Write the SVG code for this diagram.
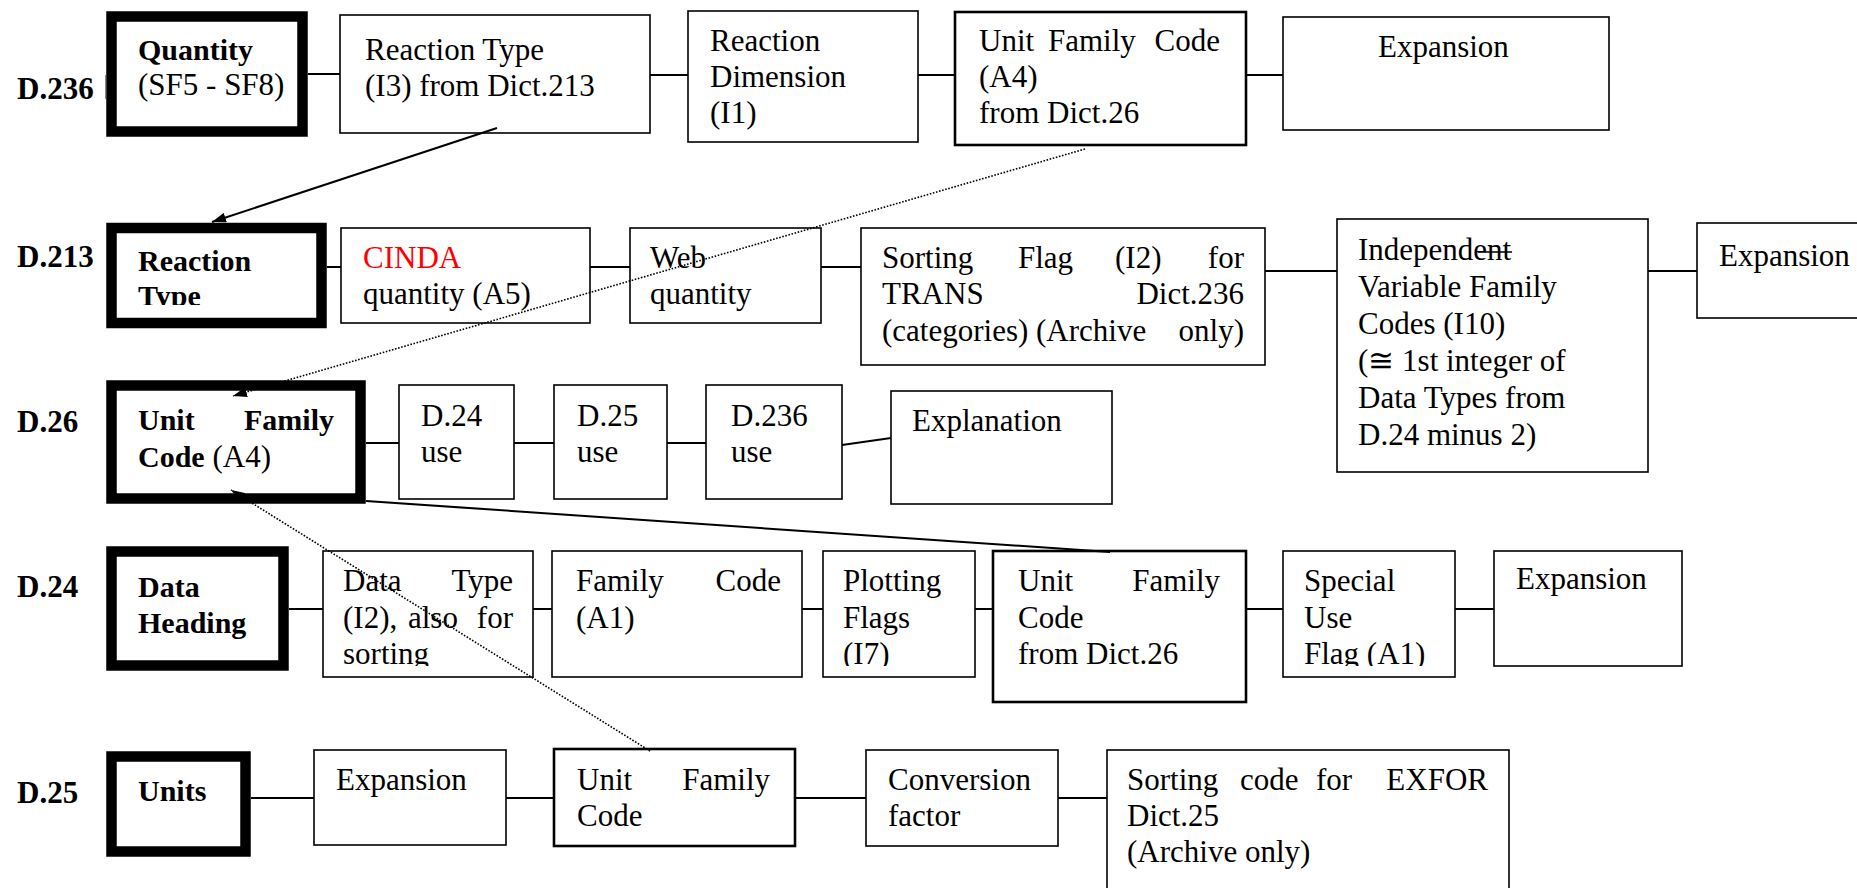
<svg xmlns="http://www.w3.org/2000/svg" width="1857" height="888" viewBox="0 0 1857 888">
<style>
text{font-family:"Liberation Serif","Times New Roman",serif;font-size:31px;fill:#000}
.b{font-weight:bold}
.lab{font-weight:bold;font-size:31px}
.bt{font-weight:bold;font-size:30px}
.box{fill:#fff;stroke:#000;stroke-width:1.6}
.mid{fill:#fff;stroke:#000;stroke-width:2.6}
.thk{fill:#fff;stroke:#000;stroke-width:10.5}
.ln{stroke:#000;stroke-width:2;fill:none}
.dot{stroke:#000;stroke-width:1.6;stroke-dasharray:1.6 1.6;fill:none}
.red{fill:#ff0000}
</style>
<defs>
<marker id="ah" viewBox="0 0 14 10" refX="14" refY="5" markerWidth="14" markerHeight="10" markerUnits="userSpaceOnUse" orient="auto"><path d="M0,0 L14,5 L0,10 z" fill="#000"/></marker>
<clipPath id="c1"><rect x="100" y="220" width="230" height="85"/></clipPath>
<clipPath id="c2"><rect x="300" y="540" width="1200" height="126"/></clipPath>
</defs>

<g id="labels">
<text class="lab" x="17" y="99">D.236</text>
<line x1="105.5" y1="75" x2="105.5" y2="99" stroke="#888" stroke-width="1"/>
<text class="lab" x="17" y="267">D.213</text>
<text class="lab" x="17" y="432">D.26</text>
<text class="lab" x="17" y="597">D.24</text>
<text class="lab" x="17" y="803">D.25</text>
</g>

<g id="connectors">
<line class="ln" x1="308" y1="74" x2="340" y2="74"/>
<line class="ln" x1="650" y1="75" x2="688" y2="75"/>
<line class="ln" x1="918" y1="75" x2="955" y2="75"/>
<line class="ln" x1="1246" y1="75" x2="1283" y2="75"/>
<line class="ln" x1="327" y1="267" x2="341" y2="267"/>
<line class="ln" x1="590" y1="267" x2="630" y2="267"/>
<line class="ln" x1="821" y1="267" x2="861" y2="267"/>
<line class="ln" x1="1265" y1="271" x2="1337" y2="271"/>
<line class="ln" x1="1648" y1="271" x2="1697" y2="271"/>
<line class="ln" x1="366" y1="443" x2="399" y2="443"/>
<line class="ln" x1="514" y1="443" x2="554" y2="443"/>
<line class="ln" x1="667" y1="443" x2="706" y2="443"/>
<line class="ln" x1="842" y1="445" x2="891" y2="438"/>
<line class="ln" x1="289" y1="609" x2="323" y2="609"/>
<line class="ln" x1="533" y1="609" x2="552" y2="609"/>
<line class="ln" x1="802" y1="609" x2="823" y2="609"/>
<line class="ln" x1="975" y1="609" x2="993" y2="609"/>
<line class="ln" x1="1246" y1="609" x2="1283" y2="609"/>
<line class="ln" x1="1455" y1="609" x2="1494" y2="609"/>
<line class="ln" x1="251" y1="798" x2="314" y2="798"/>
<line class="ln" x1="506" y1="798" x2="554" y2="798"/>
<line class="ln" x1="795" y1="798" x2="866" y2="798"/>
<line class="ln" x1="1058" y1="798" x2="1107" y2="798"/>
</g>

<g id="n-quantity"><rect class="thk" x="111.5" y="16.5" width="191" height="115"/>
<text class="bt" x="138" y="60">Quantity</text><text x="138" y="95">(SF5 - SF8)</text></g>
<g id="n-reactiontype236"><rect class="box" x="340" y="15" width="310" height="118"/>
<text x="365" y="60">Reaction Type</text><text x="365" y="96">(I3) from Dict.213</text></g>
<g id="n-reactiondim"><rect class="box" x="688" y="11" width="230" height="131"/>
<text x="710" y="51">Reaction</text><text x="710" y="87">Dimension</text><text x="710" y="123">(I1)</text></g>
<g id="n-ufc236"><rect class="mid" x="955" y="12" width="291" height="133"/>
<text y="51"><tspan x="979">Unit</tspan><tspan x="1048">Family</tspan><tspan x="1220" text-anchor="end">Code</tspan></text><text x="979" y="87">(A4)</text><text x="979" y="123">from Dict.26</text></g>
<g id="n-exp236"><rect class="box" x="1283" y="17" width="326" height="113"/>
<text x="1378" y="57">Expansion</text></g>

<g id="n-reactiontype213"><rect class="thk" x="111.5" y="228" width="210" height="95"/>
<text class="bt" x="138" y="271">Reaction</text><text class="bt" x="138" y="306" clip-path="url(#c1)">Type</text></g>
<g id="n-cinda"><rect class="box" x="341" y="228" width="249" height="95"/>
<text class="red" x="363" y="268">CINDA</text><text x="363" y="304">quantity (A5)</text></g>
<g id="n-web"><rect class="box" x="630" y="228" width="191" height="95"/>
<text x="650" y="268">Web</text><text x="650" y="304">quantity</text></g>
<g id="n-sorting213"><rect class="box" x="861" y="228" width="404" height="137"/>
<text y="268"><tspan x="882">Sorting</tspan><tspan x="1018">Flag</tspan><tspan x="1115">(I2)</tspan><tspan x="1244" text-anchor="end">for</tspan></text>
<text y="304"><tspan x="882">TRANS</tspan><tspan x="1244" text-anchor="end">Dict.236</tspan></text>
<text y="341"><tspan x="882">(categories)</tspan><tspan x="1036">(Archive</tspan><tspan x="1244" text-anchor="end">only)</tspan></text></g>
<g id="n-indep"><rect class="box" x="1337" y="219" width="311" height="253"/>
<text x="1358" y="260">Independent</text>
<line x1="1478" y1="252" x2="1512" y2="252" stroke="#000" stroke-width="1.5"/>
<text x="1358" y="297">Variable Family</text><text x="1358" y="334">Codes (I10)</text>
<text x="1358" y="371">(≅ 1st integer of</text><text x="1358" y="408">Data Types from</text><text x="1358" y="445">D.24 minus 2)</text></g>
<g id="n-exp213"><rect class="box" x="1697" y="223" width="200" height="95"/>
<text x="1719" y="266">Expansion</text></g>

<g id="n-ufc26"><rect class="thk" x="111.5" y="385.5" width="249" height="113"/>
<text class="bt" y="430"><tspan x="138">Unit</tspan><tspan x="334" text-anchor="end">Family</tspan></text>
<text x="138" y="467"><tspan class="b" font-size="30">Code</tspan> (A4)</text></g>
<g id="n-d24use"><rect class="box" x="399" y="385" width="115" height="114"/>
<text x="421" y="426">D.24</text><text x="421" y="462">use</text></g>
<g id="n-d25use"><rect class="box" x="554" y="385" width="113" height="114"/>
<text x="577" y="426">D.25</text><text x="577" y="462">use</text></g>
<g id="n-d236use"><rect class="box" x="706" y="385" width="136" height="114"/>
<text x="731" y="426">D.236</text><text x="731" y="462">use</text></g>
<g id="n-expl"><rect class="box" x="891" y="391" width="221" height="113"/>
<text x="912" y="431">Explanation</text></g>

<g id="n-dataheading"><rect class="thk" x="111.5" y="551.5" width="172" height="114"/>
<text class="bt" x="138" y="597">Data</text><text class="bt" x="138" y="633">Heading</text></g>
<g id="n-datatype"><rect class="box" x="323" y="551" width="210" height="126"/>
<text y="591"><tspan x="343">Data</tspan><tspan x="513" text-anchor="end">Type</tspan></text>
<text y="628"><tspan x="343">(I2),</tspan><tspan x="408">also</tspan><tspan x="513" text-anchor="end">for</tspan></text>
<text x="343" y="664" clip-path="url(#c2)">sorting</text></g>
<g id="n-familycode"><rect class="box" x="552" y="551" width="250" height="126"/>
<text y="591"><tspan x="576">Family</tspan><tspan x="781" text-anchor="end">Code</tspan></text>
<text x="576" y="628">(A1)</text></g>
<g id="n-plotting"><rect class="box" x="823" y="551" width="152" height="126"/>
<text x="843" y="591">Plotting</text><text x="843" y="628">Flags</text><text x="843" y="664" clip-path="url(#c2)">(I7)</text></g>
<g id="n-ufc24"><rect class="mid" x="993" y="551" width="253" height="151"/>
<text y="591"><tspan x="1018">Unit</tspan><tspan x="1220" text-anchor="end">Family</tspan></text>
<text x="1018" y="628">Code</text><text x="1018" y="664">from Dict.26</text></g>
<g id="n-special"><rect class="box" x="1283" y="551" width="172" height="126"/>
<text x="1304" y="591">Special</text><text x="1304" y="628">Use</text><text x="1304" y="664" clip-path="url(#c2)">Flag (A1)</text></g>
<g id="n-exp24"><rect class="box" x="1494" y="551" width="188" height="115"/>
<text x="1516" y="589">Expansion</text></g>

<g id="n-units"><rect class="thk" x="111.5" y="756.5" width="134" height="95"/>
<text class="bt" x="138" y="801">Units</text></g>
<g id="n-exp25"><rect class="box" x="314" y="750" width="192" height="95"/>
<text x="336" y="790">Expansion</text></g>
<g id="n-ufc25"><rect class="mid" x="554" y="749" width="241" height="97"/>
<text y="790"><tspan x="577">Unit</tspan><tspan x="770" text-anchor="end">Family</tspan></text>
<text x="577" y="826">Code</text></g>
<g id="n-conv"><rect class="box" x="866" y="750" width="192" height="96"/>
<text x="888" y="790">Conversion</text><text x="888" y="826">factor</text></g>
<g id="n-sortcode"><rect class="box" x="1107" y="750" width="402" height="160"/>
<text y="790"><tspan x="1127">Sorting</tspan><tspan x="1240">code</tspan><tspan x="1316">for</tspan><tspan x="1488" text-anchor="end">EXFOR</tspan></text>
<text x="1127" y="826">Dict.25</text><text x="1127" y="862">(Archive only)</text></g>

<g id="cross-connectors">
<line class="ln" x1="497" y1="128" x2="212" y2="222" marker-end="url(#ah)"/>
<line class="dot" x1="1085" y1="149" x2="233" y2="396" marker-end="url(#ah)"/>
<line class="dot" x1="650" y1="751" x2="231" y2="490" marker-end="url(#ah)"/>
<line class="ln" x1="366" y1="501" x2="1110" y2="552"/>
</g>
</svg>
